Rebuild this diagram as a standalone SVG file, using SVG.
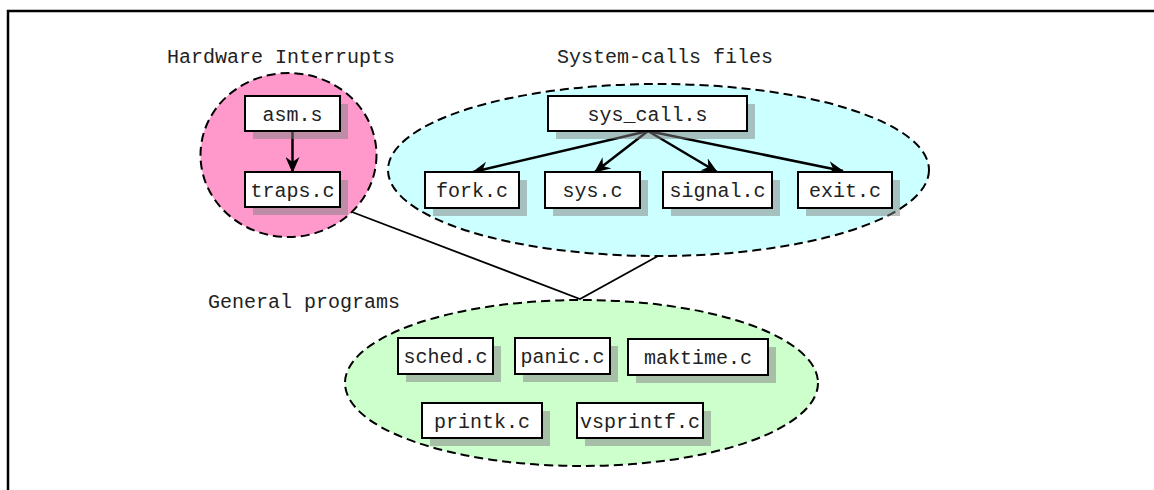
<svg xmlns="http://www.w3.org/2000/svg" width="1154" height="490" viewBox="0 0 1154 490">
<style>
text{font-family:"Liberation Mono","DejaVu Sans Mono",monospace;font-size:20px;fill:#222;text-anchor:middle}
.lbl{text-anchor:start}
.cl{stroke:#000;stroke-width:2;stroke-dasharray:9 5}
.box{fill:#fff;stroke:#000;stroke-width:2}
.sh{fill:#808080;fill-opacity:0.5}
.arr{stroke:#000;stroke-width:2.5;fill:none;marker-end:url(#ah)}
.ln{stroke:#000;stroke-width:1.8;fill:none}
</style>
<defs>
<marker id="ah" viewBox="0 0 16 14" refX="15" refY="7" markerWidth="16" markerHeight="14" orient="auto" markerUnits="userSpaceOnUse">
<path d="M0,0 L16,7 L0,14 L5,7 z" fill="#000"/>
</marker>
</defs>
<rect width="1154" height="490" fill="#fff"/>
<path d="M8,490 L8,11 L1154,11" fill="none" stroke="#000" stroke-width="2.5"/>
<g id="clusters">
<ellipse id="cl-hw" class="cl" cx="288.5" cy="155" rx="88" ry="82" fill="#ff99cc"/>
<ellipse id="cl-sys" class="cl" cx="658.5" cy="170" rx="270.5" ry="86" fill="#ccffff"/>
<ellipse id="cl-gen" class="cl" cx="581.5" cy="383" rx="236.5" ry="83" fill="#ccffcc"/>
</g>
<g id="labels">
<text class="lbl" x="167" y="63">Hardware Interrupts</text>
<text class="lbl" x="557" y="63">System-calls files</text>
<text class="lbl" x="208" y="308">General programs</text>
</g>
<g id="connectors">
<polyline class="ln" points="352,212 580,299 658,256"/>
<line class="arr" x1="292.5" y1="131" x2="292.5" y2="172"/>
<line class="arr" x1="648" y1="131" x2="473" y2="172"/>
<line class="arr" x1="648" y1="131" x2="595" y2="172"/>
<line class="arr" x1="648" y1="131" x2="717" y2="172"/>
<line class="arr" x1="648" y1="131" x2="843" y2="171"/>
</g>
<g id="n-asm"><rect class="sh" x="253" y="104" width="95" height="35"/><rect class="box" x="245" y="96" width="95" height="35"/><text x="292.5" y="120.5">asm.s</text></g>
<g id="n-traps"><rect class="sh" x="253" y="180" width="95" height="35"/><rect class="box" x="245" y="172" width="95" height="35"/><text x="292.5" y="196.5">traps.c</text></g>
<g id="n-syscall"><rect class="sh" x="556" y="104" width="199" height="35"/><rect class="box" x="548" y="96" width="199" height="35"/><text x="647.5" y="120.5">sys_call.s</text></g>
<g id="n-fork"><rect class="sh" x="433" y="180" width="94" height="36"/><rect class="box" x="425" y="172" width="94" height="36"/><text x="472" y="197">fork.c</text></g>
<g id="n-sys"><rect class="sh" x="553" y="180" width="95" height="36"/><rect class="box" x="545" y="172" width="95" height="36"/><text x="592.5" y="197">sys.c</text></g>
<g id="n-signal"><rect class="sh" x="671" y="180" width="109" height="36"/><rect class="box" x="663" y="172" width="109" height="36"/><text x="717.5" y="197">signal.c</text></g>
<g id="n-exit"><rect class="sh" x="806" y="180" width="94" height="36"/><rect class="box" x="798" y="172" width="94" height="36"/><text x="845" y="197">exit.c</text></g>
<g id="n-sched"><rect class="sh" x="406" y="346" width="95" height="36"/><rect class="box" x="398" y="338" width="95" height="36"/><text x="445.5" y="363">sched.c</text></g>
<g id="n-panic"><rect class="sh" x="523" y="346" width="95" height="36"/><rect class="box" x="515" y="338" width="95" height="36"/><text x="562.5" y="363">panic.c</text></g>
<g id="n-maktime"><rect class="sh" x="636" y="347" width="140" height="36"/><rect class="box" x="628" y="339" width="140" height="36"/><text x="698" y="364">maktime.c</text></g>
<g id="n-printk"><rect class="sh" x="430" y="411" width="120" height="35"/><rect class="box" x="422" y="403" width="120" height="35"/><text x="482" y="427.5">printk.c</text></g>
<g id="n-vsprintf"><rect class="sh" x="585" y="411" width="126" height="35"/><rect class="box" x="577" y="403" width="126" height="35"/><text x="640" y="427.5">vsprintf.c</text></g>
</svg>
